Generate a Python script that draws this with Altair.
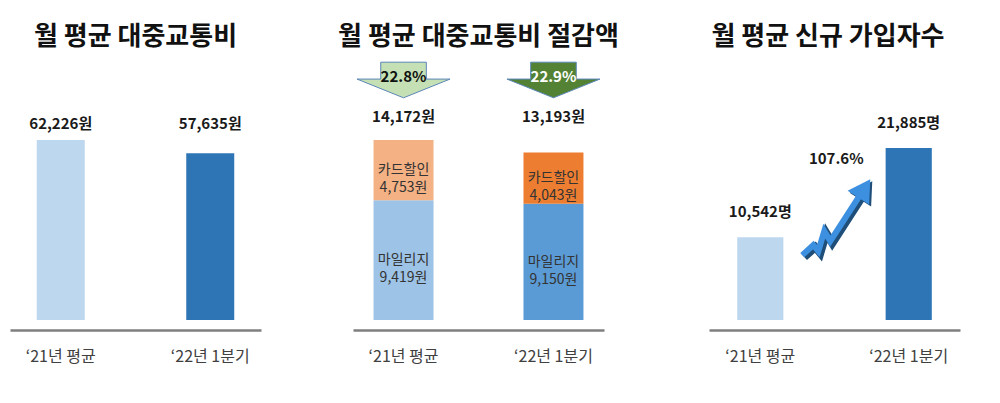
import altair as alt
import pandas as pd

FONT = "Noto Sans CJK KR"

# ---- data ----
periods = ["‘21년 평균", "‘22년 1분기"]
titles = ["월 평균 대중교통비", "월 평균 대중교통비 절감액", "월 평균 신규 가입자수"]
fare = [62226, 57635]
parts = ["마일리지", "카드할인"]
mileage = [9419, 9150]
card_discount = [4753, 4043]
savings_total = [14172, 13193]
savings_change = ["22.8%", "22.9%"]
signups = [10542, 21885]
signup_change = "107.6%"

# ---- styles ----
fare_colors = ["#bdd7ee", "#2e75b6"]
seg_colors = ["#9dc3e6", "#f4b183", "#5b9bd5", "#ed7d31"]
arrow_fills = ["#c5e0b4", "#548235"]
signup_colors = ["#bdd7ee", "#2e75b6"]

W = 251
W3 = 264
H = 265

DOWN_ARROW = ("M -0.49 -0.383 L 0.49 -0.383 L 0.49 -0.02 L 1 -0.02 "
              "L 0 0.383 L -1 -0.02 L -0.49 -0.02 Z")
ZIG_LINE = ("M -0.8 0.925 L -0.525 0.675 L -0.4 0.825 L -0.25 0.325 "
            "L -0.1 0.575 L 0.64 -0.57")
ZIG_HEAD = "M 0.9 -0.975 L 0.871 -0.34 L 0.333 -0.686 Z"


def x_enc(pi, po, rng=None):
    sc = dict(domain=periods, paddingInner=pi, paddingOuter=po)
    if rng is not None:
        sc["range"] = rng
    return alt.X(
        "period:N",
        sort=periods,
        scale=alt.Scale(**sc),
        axis=alt.Axis(title=None, labelAngle=0, ticks=False, grid=False,
                      domainColor="#7f7f7f", domainWidth=2.5, offset=10,
                      labelPadding=18, labelFontSize=16, labelColor="#404040",
                      labelFont=FONT),
    )


def title(t):
    return alt.TitleParams(t, font=FONT, fontSize=26, fontWeight="bold",
                           color="#111111", offset=5, anchor="middle")


# ---- panel 1 ----
fare_df = pd.DataFrame({"period": periods, "value": fare})
fare_df["label"] = [f"{v:,}원" for v in fare]
ys1 = alt.Scale(domain=[0, max(fare) * H / 180])
b1 = alt.Chart(fare_df).encode(x=x_enc(0.679, 0.179))
bars1 = b1.mark_bar().encode(
    y=alt.Y("value:Q", scale=ys1, axis=None),
    color=alt.Color("period:N", scale=alt.Scale(domain=periods, range=fare_colors), legend=None),
)
lab1 = b1.transform_joinaggregate(top="max(value)").mark_text(
    font=FONT, fontSize=15, fontWeight="bold", color="#1a1a1a", dy=-16
).encode(y=alt.Y("top:Q", scale=ys1, axis=None), text="label:N")
panel1 = alt.layer(bars1, lab1).properties(width=W, height=H, title=title(titles[0]))

# ---- panel 2 ----
rows = []
for i, p in enumerate(periods):
    rows.append({"period": p, "part": parts[0], "order": 0, "value": mileage[i]})
    rows.append({"period": p, "part": parts[1], "order": 1, "value": card_discount[i]})
seg_df = pd.DataFrame(rows)
seg_df["key"] = seg_df["period"] + "|" + seg_df["part"]
seg_df["label"] = seg_df["part"] + "\n" + seg_df["value"].map("{:,}원".format)
keys = list(seg_df["key"])

ys2 = alt.Scale(domain=[0, max(savings_total) * H / 180])
seg = alt.Chart(seg_df).transform_stack(
    stack="value", as_=["v0", "v1"], groupby=["period"],
    sort=[alt.SortField("order", order="ascending")],
).transform_calculate(mid="(datum.v0 + datum.v1) / 2").encode(x=x_enc(0.6, 0.137))
bars2 = seg.mark_bar().encode(
    y=alt.Y("v0:Q", scale=ys2, axis=None),
    y2="v1:Q",
    color=alt.Color("key:N", scale=alt.Scale(domain=keys, range=seg_colors), legend=None),
)
seglab = seg.mark_text(font=FONT, fontSize=14, color="#333333", lineBreak="\n", lineHeight=18).encode(
    y=alt.Y("mid:Q", scale=ys2, axis=None), text="label:N"
)

tot_df = pd.DataFrame({"period": periods, "total": savings_total, "change": savings_change})
tot_df["label"] = [f"{v:,}원" for v in savings_total]
tot = alt.Chart(tot_df).transform_joinaggregate(top="max(total)").encode(
    x=x_enc(0.6, 0.137), y=alt.Y("top:Q", scale=ys2, axis=None)
)
totlab = tot.mark_text(font=FONT, fontSize=15, fontWeight="bold", color="#1a1a1a", dy=-23).encode(text="label:N")
arrows = tot.mark_point(shape=DOWN_ARROW, size=93 * 93, filled=True, opacity=1,
                        stroke="#5b86b8", strokeWidth=1, yOffset=-60).encode(
    fill=alt.Fill("period:N", scale=alt.Scale(domain=periods, range=arrow_fills), legend=None)
)
arrowlab = tot.mark_text(font=FONT, fontSize=15, fontWeight="bold", dy=-63).encode(
    text="change:N",
    color=alt.condition(alt.datum.period == periods[0], alt.value("#111111"), alt.value("white")),
)
panel2 = alt.layer(bars2, seglab, totlab, arrows, arrowlab).properties(
    width=W, height=H, title=title(titles[1])
)

# ---- panel 3 ----
x3 = x_enc(0.689, 0.19, rng=[W3 - W, W3])
sig_df = pd.DataFrame({"period": periods, "value": signups})
sig_df["label"] = [f"{v:,}명" for v in signups]
ys3 = alt.Scale(domain=[0, max(signups) * H / 172])
b3 = alt.Chart(sig_df).encode(x=x3, y=alt.Y("value:Q", scale=ys3, axis=None))
bars3 = b3.mark_bar().encode(
    color=alt.Color("period:N", scale=alt.Scale(domain=periods, range=signup_colors), legend=None)
)
lab3 = b3.mark_text(font=FONT, fontSize=15, fontWeight="bold", color="#1a1a1a", dy=-25).encode(text="label:N")

up_df = pd.DataFrame({"period": [periods[0]], "value": [signups[0]], "change": [signup_change]})
up = alt.Chart(up_df).encode(x=x3, y=alt.Y("value:Q", scale=ys3, axis=None))
zig_shadow = up.mark_point(shape=ZIG_LINE, size=6400, filled=False, opacity=1, stroke="#1f4e79",
                           strokeWidth=8, strokeJoin="miter", xOffset=76, yOffset=-17)
head_shadow = up.mark_point(shape=ZIG_HEAD, size=6400, filled=True, opacity=1, color="#1f4e79",
                            xOffset=76, yOffset=-17)
zig = up.mark_point(shape=ZIG_LINE, size=6400, filled=False, opacity=1, stroke="#3d8fe0",
                    strokeWidth=6, strokeJoin="miter", xOffset=74, yOffset=-19)
head = up.mark_point(shape=ZIG_HEAD, size=6400, filled=True, opacity=1, color="#3d8fe0",
                     xOffset=74, yOffset=-19)
uplab = up.mark_text(font=FONT, fontSize=15, fontWeight="bold", color="#1a1a1a", dx=76, dy=-78).encode(
    text="change:N"
)
panel3 = alt.layer(bars3, lab3, zig_shadow, head_shadow, zig, head, uplab).properties(
    width=W3, height=H, title=title(titles[2])
)

chart = alt.hconcat(panel1, panel2, panel3, spacing=92, bounds="flush").resolve_scale(
    x="independent", y="independent", color="independent", fill="independent"
).properties(
    padding={"left": 10, "top": 24, "right": 5, "bottom": 5}, background="white"
).configure_view(strokeWidth=0)

chart.save("out.html", embed_options={"renderer": "svg", "actions": False})
